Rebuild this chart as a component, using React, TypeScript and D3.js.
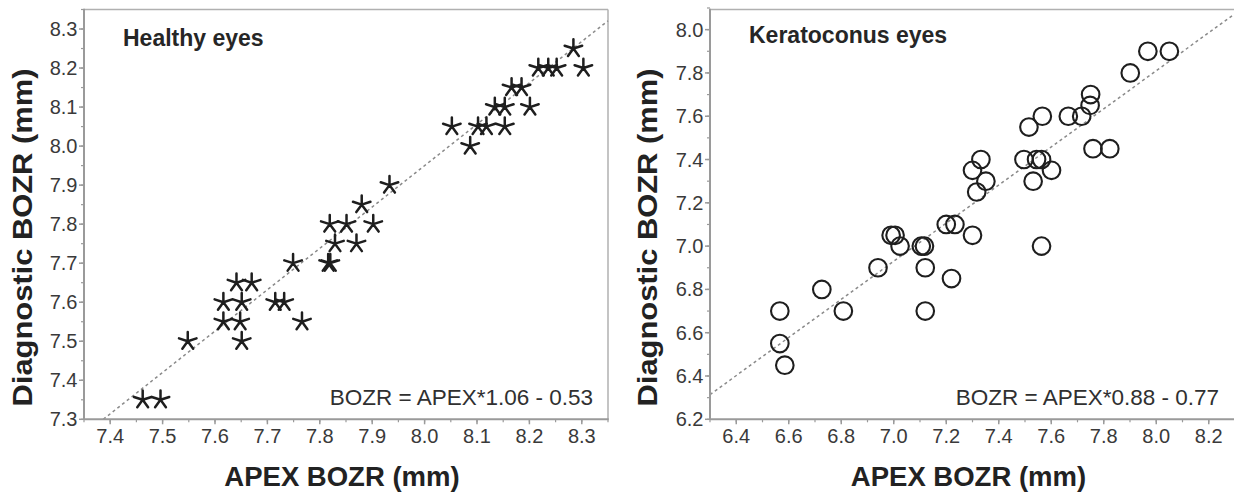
import React from "react";
import * as d3 from "d3";

// ---------- data ----------
const healthyApex = [7.462, 7.496, 7.548, 7.616, 7.616, 7.641, 7.670, 7.651, 7.648, 7.651, 7.715, 7.732, 7.749, 7.766, 7.816, 7.820, 7.819, 7.829, 7.851, 7.870, 7.880, 7.902, 7.933, 8.052, 8.087, 8.102, 8.118, 8.153, 8.134, 8.153, 8.201, 8.166, 8.185, 8.217, 8.236, 8.252, 8.284, 8.303];
const healthyDiag = [7.35, 7.35, 7.50, 7.60, 7.55, 7.65, 7.65, 7.60, 7.55, 7.50, 7.60, 7.60, 7.70, 7.55, 7.70, 7.70, 7.80, 7.75, 7.80, 7.75, 7.85, 7.80, 7.90, 8.05, 8.00, 8.05, 8.05, 8.05, 8.10, 8.10, 8.10, 8.15, 8.15, 8.20, 8.20, 8.20, 8.25, 8.20];

const keratoApex = [6.566, 6.566, 6.585, 6.726, 6.808, 6.94, 6.99, 7.005, 7.024, 7.105, 7.117, 7.12, 7.12, 7.20, 7.233, 7.22, 7.30, 7.30, 7.332, 7.351, 7.316, 7.496, 7.515, 7.566, 7.544, 7.563, 7.531, 7.601, 7.563, 7.665, 7.716, 7.75, 7.748, 7.759, 7.823, 7.901, 7.968, 8.05];
const keratoDiag = [6.70, 6.55, 6.45, 6.80, 6.70, 6.90, 7.05, 7.05, 7.00, 7.00, 7.00, 6.90, 6.70, 7.10, 7.10, 6.85, 7.05, 7.35, 7.40, 7.30, 7.25, 7.40, 7.55, 7.60, 7.40, 7.40, 7.30, 7.35, 7.00, 7.60, 7.60, 7.70, 7.65, 7.45, 7.45, 7.80, 7.90, 7.90];

const healthyXTicks = ["7.4", "7.5", "7.6", "7.7", "7.8", "7.9", "8.0", "8.1", "8.2", "8.3"];
const healthyYTicks = ["7.3", "7.4", "7.5", "7.6", "7.7", "7.8", "7.9", "8.0", "8.1", "8.2", "8.3"];
const keratoXTicks = ["6.4", "6.6", "6.8", "7.0", "7.2", "7.4", "7.6", "7.8", "8.0", "8.2"];
const keratoYTicks = ["6.2", "6.4", "6.6", "6.8", "7.0", "7.2", "7.4", "7.6", "7.8", "8.0"];

const healthyFit = [1.06, -0.53]; // slope, intercept
const keratoFit = [0.88, 0.77];

const panelTitles = ["Healthy eyes", "Keratoconus eyes"];
const equations = ["BOZR = APEX*1.06 - 0.53", "BOZR = APEX*0.88 - 0.77"];
const xTitle = "APEX BOZR (mm)";
const yTitle = "Diagnostic BOZR (mm)";

const FONT = "'Liberation Sans', Arial, Helvetica, sans-serif";

type PanelProps = {
  apex: number[];
  diag: number[];
  xDomain: [number, number];
  yDomain: [number, number];
  left: number;
  right: number;
  xTicks: string[];
  yTicks: string[];
  minorStep: number;
  fit: number[];
  marker: "star" | "circle";
  title: string;
  titleY: number;
  equation: string;
  eqX: number;
  yTitleX: number;
};

const TOP = 9.5;
const BOTTOM = 419.3;

function starPath(r: number) {
  let p = "";
  for (let i = 0; i < 5; i++) {
    const a = -Math.PI / 2 + (i * 2 * Math.PI) / 5;
    p += `M0,0L${(r * Math.cos(a)).toFixed(2)},${(r * Math.sin(a)).toFixed(2)}`;
  }
  return p;
}

function Panel(props: PanelProps) {
  const { apex, diag, xDomain, yDomain, left, right, xTicks, yTicks, minorStep, fit, marker } = props;
  const x = d3.scaleLinear().domain(xDomain).range([left, right]);
  const y = d3.scaleLinear().domain(yDomain).range([BOTTOM, TOP]);
  const xMinor = d3.range(Math.round((xDomain[1] - xDomain[0]) / minorStep) + 1).map((i) => xDomain[0] + i * minorStep);
  const yMinor = d3.range(Math.round((yDomain[1] - yDomain[0]) / minorStep) + 1).map((i) => yDomain[0] + i * minorStep);

  // fit line clipped to the plot box
  const [m, b] = fit;
  let x0 = xDomain[0], x1 = xDomain[1];
  if (m * x0 + b < yDomain[0]) x0 = (yDomain[0] - b) / m;
  if (m * x1 + b > yDomain[1]) x1 = (yDomain[1] - b) / m;
  const line = d3.line<number>().x((v) => x(v)).y((v) => y(m * v + b));

  const star = starPath(9.2);
  const axisColor = "#9a9a9a";
  const labelColor = "#3a3a3a";
  const markColor = "#1e1e1e";

  return (
    <g>
      {/* frame */}
      <line x1={left} x2={right} y1={TOP} y2={TOP} stroke="#b0b0b0" strokeWidth={1.5} />
      <line x1={right} x2={right} y1={TOP} y2={BOTTOM} stroke="#b0b0b0" strokeWidth={1.5} />
      {/* fit line */}
      <path d={line([x0, x1]) || ""} stroke="#8a8a8a" strokeWidth={1.5} strokeDasharray="3,3" fill="none" />
      {/* minor ticks */}
      {xMinor.map((v, i) => (
        <line key={"xm" + i} x1={x(v)} x2={x(v)} y1={BOTTOM} y2={BOTTOM + 3} stroke={axisColor} strokeWidth={1.2} />
      ))}
      {yMinor.map((v, i) => (
        <line key={"ym" + i} x1={left - 3} x2={left} y1={y(v)} y2={y(v)} stroke={axisColor} strokeWidth={1.2} />
      ))}
      {/* major x ticks */}
      {xTicks.map((t) => (
        <g key={"xt" + t}>
          <line x1={x(+t)} x2={x(+t)} y1={BOTTOM} y2={BOTTOM + 5} stroke={axisColor} strokeWidth={1.5} />
          <text x={x(+t)} y={443} textAnchor="middle" fontFamily={FONT} fontSize={20} fill={labelColor}>
            {t}
          </text>
        </g>
      ))}
      {yTicks.map((t) => (
        <g key={"yt" + t}>
          <line x1={left - 5} x2={left} y1={y(+t)} y2={y(+t)} stroke={axisColor} strokeWidth={1.5} />
          <text x={left - 6.5} y={y(+t) + 7} textAnchor="end" fontFamily={FONT} fontSize={20} fill={labelColor}>
            {t}
          </text>
        </g>
      ))}
      {/* axes */}
      <line x1={left} x2={right + 0.75} y1={BOTTOM} y2={BOTTOM} stroke={axisColor} strokeWidth={2} />
      <line x1={left} x2={left} y1={TOP - 0.75} y2={BOTTOM} stroke={axisColor} strokeWidth={2} />
      {/* markers */}
      {apex.map((a, i) =>
        marker === "star" ? (
          <path key={"m" + i} d={star} transform={`translate(${x(a)},${y(diag[i])})`} stroke={markColor} strokeWidth={2.5} fill="none" strokeLinecap="round" />
        ) : (
          <circle key={"m" + i} cx={x(a)} cy={y(diag[i])} r={8.8} stroke={markColor} strokeWidth={2.1} fill="none" />
        )
      )}
      {/* texts */}
      <text x={left + 39} y={props.titleY} fontFamily={FONT} fontSize={23} fontWeight="bold" fill="#262626">
        {props.title}
      </text>
      <text x={props.eqX} y={405} textAnchor="end" fontFamily={FONT} fontSize={22.5} fill="#303030">
        {props.equation}
      </text>
      <text x={(left + right) / 2 - 4} y={486} textAnchor="middle" fontFamily={FONT} fontSize={27.5} fontWeight="bold" fill="#222">
        {xTitle}
      </text>
      <text
        transform={`translate(${props.yTitleX},237.5) rotate(-90)`}
        textAnchor="middle"
        fontFamily={FONT}
        fontSize={28}
        fontWeight="bold"
        fill="#222"
        textLength={338}
        lengthAdjust="spacingAndGlyphs"
      >
        {yTitle}
      </text>
    </g>
  );
}

export default function App() {
  return (
    <div style={{ position: "absolute", left: 0, top: 0 }}>
      <svg width={1234} height={493} style={{ display: "block", background: "#fff" }}>
        <rect x={0} y={0} width={1234} height={493} fill="#fff" />
        <Panel
          apex={healthyApex}
          diag={healthyDiag}
          xDomain={[7.35, 8.35]}
          yDomain={[7.3, 8.35]}
          left={84}
          right={608}
          xTicks={healthyXTicks}
          yTicks={healthyYTicks}
          minorStep={0.05}
          fit={healthyFit}
          marker="star"
          title={panelTitles[0]}
          titleY={45.5}
          equation={equations[0]}
          eqX={593}
          yTitleX={32}
        />
        <Panel
          apex={keratoApex}
          diag={keratoDiag}
          xDomain={[6.3, 8.3]}
          yDomain={[6.2, 8.093]}
          left={710}
          right={1235}
          xTicks={keratoXTicks}
          yTicks={keratoYTicks}
          minorStep={0.1}
          fit={keratoFit}
          marker="circle"
          title={panelTitles[1]}
          titleY={43}
          equation={equations[1]}
          eqX={1219}
          yTitleX={657}
        />
      </svg>
    </div>
  );
}
